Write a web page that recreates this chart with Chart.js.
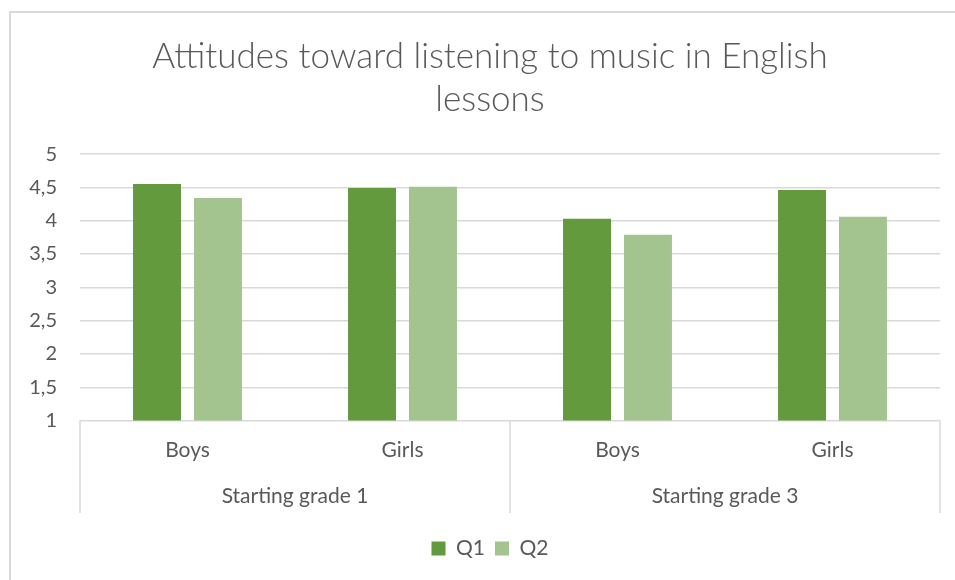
<!DOCTYPE html>
<html>
<head>
<meta charset="utf-8">
<script src="https://cdn.jsdelivr.net/npm/chart.js@4"></script>
<style>
  html, body { margin: 0; padding: 0; background: #fff; overflow: hidden; }
  #wrap { position: absolute; left: 0; top: 0; width: 977px; height: 580px; }
</style>
</head>
<body>
<div id="wrap"><canvas id="c" width="977" height="580"></canvas></div>
<script>
const titleLines = ["Attitudes toward listening to music in English", "lessons"];
const categories = ["Boys", "Girls", "Boys", "Girls"];
const groups = ["Starting grade 1", "Starting grade 3"];
const seriesNames = ["Q1", "Q2"];
const q1Values = [4.55, 4.49, 4.03, 4.46];
const q2Values = [4.34, 4.51, 3.79, 4.06];
const yTicks = [1, 1.5, 2, 2.5, 3, 3.5, 4, 4.5, 5];

const FONT = "Lato, 'Noto Sans', sans-serif";
const TXT = "#595959";
const GRID = "#d9d9d9";
const PAD_LEFT = 25;
const PAD_RIGHT = 22;
const LEGEND_GAP = 15;

const frame = {
  id: 'frame',
  beforeDraw(chart) {
    const ctx = chart.ctx;
    ctx.save();
    ctx.fillStyle = '#fff';
    ctx.fillRect(0, 0, chart.width, chart.height);
    ctx.strokeStyle = GRID;
    ctx.lineWidth = 2;
    ctx.beginPath();
    ctx.moveTo(10, chart.height + 5);
    ctx.lineTo(10, 12);
    ctx.lineTo(chart.width + 5, 12);
    ctx.stroke();
    ctx.restore();
  },
  afterDraw(chart) {
    const x = chart.scales.x, x2 = chart.scales.x2;
    const ctx = chart.ctx;
    const mid = (x.getPixelForValue(1) + x.getPixelForValue(2)) / 2;
    const top = chart.chartArea.bottom;
    const bottom = x2.bottom - LEGEND_GAP;
    ctx.save();
    ctx.strokeStyle = GRID;
    ctx.lineWidth = 1.5;
    ctx.beginPath();
    [x.left, mid, x.right].forEach(px => {
      ctx.moveTo(px, top);
      ctx.lineTo(px, bottom);
    });
    ctx.stroke();
    ctx.restore();
  }
};

new Chart(document.getElementById('c'), {
  type: 'bar',
  data: {
    labels: categories,
    datasets: [
      { label: seriesNames[0], data: q1Values, backgroundColor: '#639a3e', xAxisID: 'x', yAxisID: 'y' },
      { label: seriesNames[1], data: q2Values, backgroundColor: '#a3c48f', xAxisID: 'x', yAxisID: 'y' }
    ]
  },
  options: {
    responsive: false,
    animation: false,
    layout: { padding: { left: PAD_LEFT, right: PAD_RIGHT, top: 0, bottom: 11 } },
    datasets: { bar: { categoryPercentage: 0.567, barPercentage: 0.787 } },
    plugins: {
      title: {
        display: true,
        text: titleLines,
        color: TXT,
        font: { family: FONT, size: 35, weight: '300', lineHeight: 1.23 },
        padding: { top: 35, bottom: 33 }
      },
      legend: {
        position: 'bottom',
        labels: {
          color: TXT,
          font: { family: FONT, size: 21 },
          boxWidth: 14, boxHeight: 14, padding: 10
        }
      },
      tooltip: { enabled: false }
    },
    scales: {
      y: {
        position: 'left',
        min: 1, max: 5,
        afterBuildTicks(s) { s.ticks = yTicks.map(v => ({ value: v })); },
        afterFit(s) { s.width = 80 - PAD_LEFT; },
        ticks: {
          color: TXT,
          font: { family: FONT, size: 20 },
          padding: 23,
          callback: v => String(v).replace('.', ',')
        },
        grid: { color: GRID, lineWidth: 1.5, drawTicks: false },
        border: { display: false }
      },
      yR: {
        type: 'linear',
        position: 'right',
        min: 1, max: 5,
        afterFit(s) { s.width = 15; },
        ticks: { display: false },
        grid: { display: false, drawTicks: false },
        border: { display: false }
      },
      x: {
        position: 'bottom',
        ticks: { color: TXT, font: { family: FONT, size: 21 }, padding: 17 },
        grid: { display: false, drawTicks: false },
        border: { display: false }
      },
      x2: {
        type: 'category',
        position: 'bottom',
        labels: groups,
        afterFit(s) { s.height += LEGEND_GAP; },
        ticks: { color: TXT, font: { family: FONT, size: 21 }, padding: 4 },
        grid: { display: false, drawTicks: false },
        border: { display: false }
      }
    }
  },
  plugins: [frame]
});
</script>
</body>
</html>
